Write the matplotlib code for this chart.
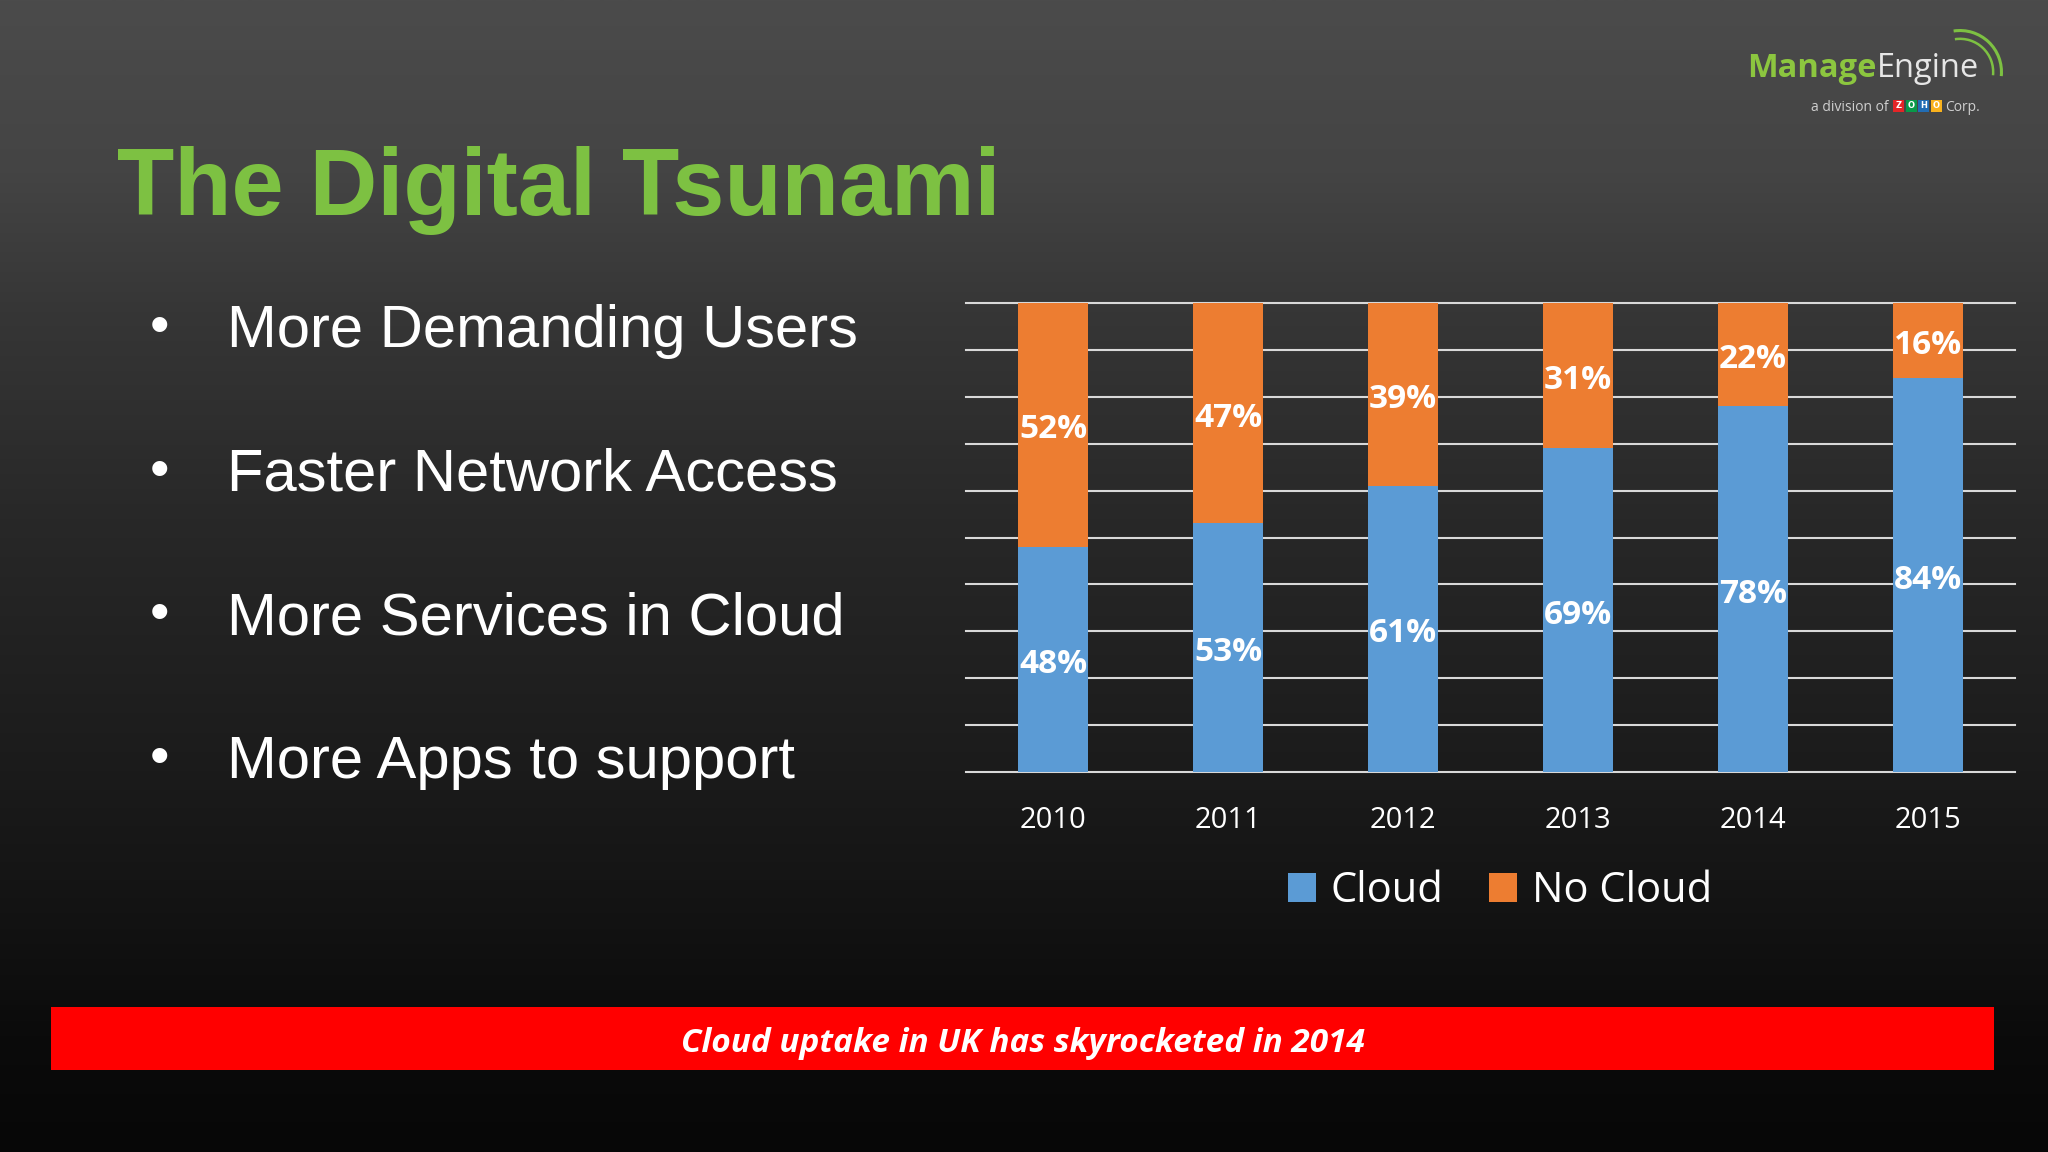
import numpy as np
import matplotlib
matplotlib.use("Agg")
import matplotlib.pyplot as plt
from matplotlib.patches import Rectangle, Arc

# ---------------- data ----------------
years = ["2010", "2011", "2012", "2013", "2014", "2015"]
cloud = [48, 53, 61, 69, 78, 84]
no_cloud = [52, 47, 39, 31, 22, 16]
series_names = ["Cloud", "No Cloud"]
title = "The Digital Tsunami"
bullets = ["More Demanding Users", "Faster Network Access",
           "More Services in Cloud", "More Apps to support"]
banner_text = "Cloud uptake in UK has skyrocketed in 2014"

BLUE = "#5b9bd5"
ORANGE = "#ed7d31"
GREEN = "#7dc142"

W, H = 2048, 1152
fig = plt.figure(figsize=(W / 100, H / 100), dpi=100)

def fx(px):
    return px / W

def fy(py):
    return 1 - py / H

# ---------------- background gradient ----------------
bg = fig.add_axes([0, 0, 1, 1], zorder=-10)
stops_f = [0.0, 0.15, 0.27, 0.45, 0.67, 0.78, 0.9, 1.0]
stops_v = [75, 68, 54, 40, 27, 20, 11, 7]
yy = np.linspace(0, 1, 600)
vals = np.interp(yy, stops_f, stops_v) / 255.0
grad = np.repeat(vals[:, None], 2, axis=1)
bg.imshow(np.dstack([grad, grad, grad]), extent=[0, 1, 0, 1], aspect="auto",
          origin="upper", interpolation="bilinear")
bg.set_xlim(0, 1)
bg.set_ylim(0, 1)
bg.axis("off")

# banner
bg.add_patch(Rectangle((fx(51), fy(1070)), fx(1994) - fx(51), fy(1007) - fy(1070),
                       facecolor="#ff0000", edgecolor="none"))
bg.text(fx(1023), fy(1044), banner_text, color="white", fontsize=24,
        fontweight="bold", fontstyle="italic", family=["Open Sans", "DejaVu Sans"],
        ha="center", va="center")

# title
fig.text(fx(117), fy(215), title, color=GREEN, fontsize=67.5, fontweight="bold",
         family=["Liberation Sans", "DejaVu Sans"], ha="left", va="baseline")

# bullets
base0 = 347
step = 143.7
for i, b in enumerate(bullets):
    yb = base0 + i * step
    fig.text(fx(159), fy(yb - 4), "\u2022", color="white", fontsize=40,
             family=["Liberation Sans", "DejaVu Sans"], ha="center", va="baseline")
    fig.text(fx(227), fy(yb), b, color="white", fontsize=43,
             family=["Liberation Sans", "DejaVu Sans"], ha="left", va="baseline")

# logo
fig.text(fx(1877), fy(77), "Manage", color="#8cc63f", fontsize=23.5, fontweight="bold",
         family=["Open Sans", "DejaVu Sans"], ha="right", va="baseline")
fig.text(fx(1877), fy(77), "Engine", color="#e6e6e6", fontsize=23.5,
         family=["Open Sans", "DejaVu Sans"], ha="left", va="baseline")
for r, lw in [(0.030, 2.2), (0.024, 1.8)]:
    bg.add_patch(Arc((fx(1960), fy(72)), r * 2 * H / W * 1.2, r * 2 * 1.2,
                     theta1=-10, theta2=95, color="#7dc142", lw=lw))
fig.text(fx(1889), fy(111), "a division of", color="#cfcfcf", fontsize=10,
         family=["Open Sans", "DejaVu Sans"], ha="right", va="baseline")
zoho_cols = ["#e42527", "#089949", "#226db4", "#f9b21d"]
for k, (ch, c) in enumerate(zip("ZOHO", zoho_cols)):
    x0 = 1893 + k * 12.5
    bg.add_patch(Rectangle((fx(x0), fy(112)), fx(11), 12 / H, facecolor=c,
                           edgecolor="none"))
    bg.text(fx(x0 + 5.5), fy(106), ch, color="white", fontsize=6, fontweight="bold",
            family=["DejaVu Sans"], ha="center", va="center")
fig.text(fx(1945), fy(111), "Corp.", color="#cfcfcf", fontsize=10,
         family=["Open Sans", "DejaVu Sans"], ha="left", va="baseline")

# ---------------- chart ----------------
ax = fig.add_axes([fx(966), fy(772), fx(2015) - fx(966), fy(303) - fy(772)])
ax.set_facecolor("none")
x = np.arange(len(years))
b1 = ax.bar(x, cloud, width=0.4, color=BLUE, zorder=3, label=series_names[0])
b2 = ax.bar(x, no_cloud, width=0.4, bottom=cloud, color=ORANGE, zorder=3,
            label=series_names[1])
for cont in (b1, b2):
    anns = ax.bar_label(cont, labels=[f"{v}%" for v in cont.datavalues],
                        label_type="center", color="white", fontsize=24,
                        fontweight="bold", family=["Open Sans", "DejaVu Sans"], zorder=4)
    for a in anns:
        a.xyann = (0, -3.6)
ax.set_xlim(-0.5, len(years) - 0.5)
ax.set_ylim(0, 100)
ax.set_yticks(np.arange(0, 101, 10))
ax.yaxis.grid(True, color="#d9d9d9", lw=1.5, zorder=0)
for g in ax.get_ygridlines():
    g.set_clip_on(False)
ax.set_axisbelow(True)
ax.tick_params(axis="y", length=0, labelleft=False)
ax.set_xticks(x)
ax.set_xticklabels(years, color="white", fontsize=21,
                   family=["Open Sans", "DejaVu Sans"])
ax.tick_params(axis="x", length=0, pad=24.5)
for s in ax.spines.values():
    s.set_visible(False)

leg = fig.legend(handles=[b1, b2], labels=series_names, loc="center",
                 bbox_to_anchor=(fx(1500), fy(891)), ncol=2, frameon=False,
                 handlelength=0.67, handleheight=0.67, handletextpad=0.36,
                 columnspacing=1.1, prop={"family": ["Open Sans", "DejaVu Sans"], "size": 30})
for t in leg.get_texts():
    t.set_color("white")

fig.savefig("out.png", dpi=100)
